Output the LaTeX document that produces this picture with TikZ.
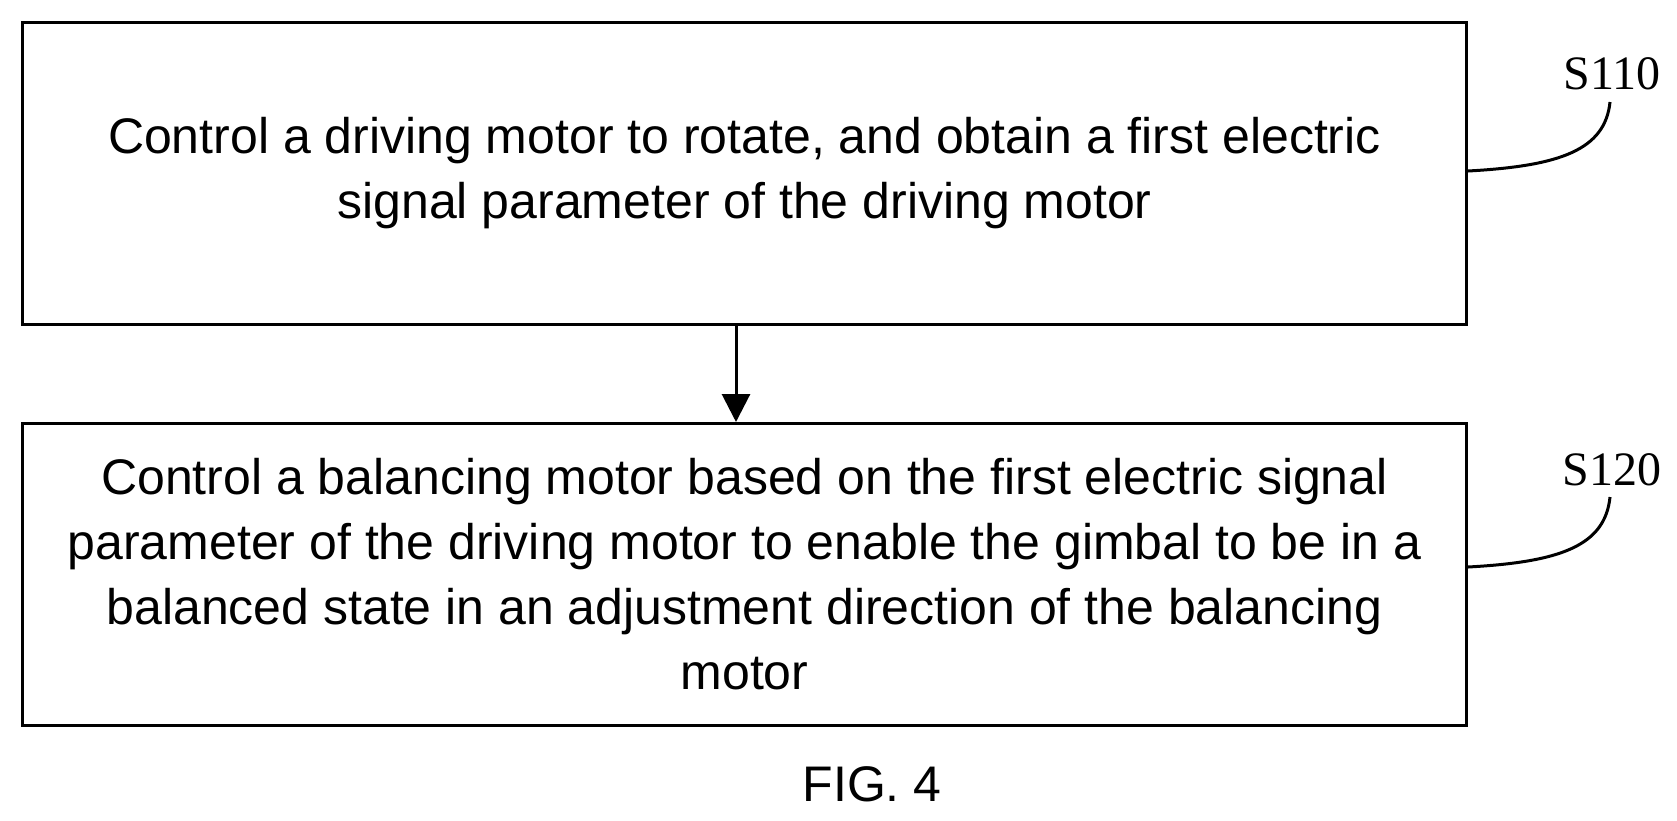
\documentclass[tikz,border=0pt]{standalone}
\usepackage{fontspec}
\setmainfont{Liberation Sans}
\newfontfamily\lblfont{Liberation Serif}
\usetikzlibrary{arrows.meta}
\begin{document}
\begin{tikzpicture}[x=1pt,y=-1pt,
  stepbox/.style={draw,line width=3pt,minimum width=1444pt,minimum height=302pt,anchor=north west,inner sep=0pt,align=center,font=\fontsize{50}{65}\selectfont},
  lbl/.style={font=\lblfont\fontsize{48}{50}\selectfont},
  lead/.style={line width=3pt}]
\useasboundingbox (0,0) rectangle (1677,820);
\node[stepbox] (b1) at (21,21) {Control a driving motor to rotate, and obtain a first electric\\signal parameter of the driving motor};
\node[stepbox] (b2) at (21,422) {Control a balancing motor based on the first electric signal\\parameter of the driving motor to enable the gimbal to be in a\\balanced state in an adjustment direction of the balancing\\motor};
\draw[line width=3pt,-{Triangle[length=28pt,width=28pt]}] (b1.south -| 736,0) -- (b2.north -| 736,0);
\node[lbl] (s1) at (1612,74) {S110};
\node[lbl] (s2) at (1612,470) {S120};
\coordinate (c1) at (1610,102);
\coordinate (c2) at (1610,497);
\draw[lead] (b1.east |- 0,171) .. controls (1560,166) and (1605,150) .. (c1);
\draw[lead] (b2.east |- 0,567) .. controls (1560,562) and (1605,546) .. (c2);
\node[font=\fontsize{50}{56}\selectfont] (fig) at (872,784) {FIG. 4};
\end{tikzpicture}
\end{document}
